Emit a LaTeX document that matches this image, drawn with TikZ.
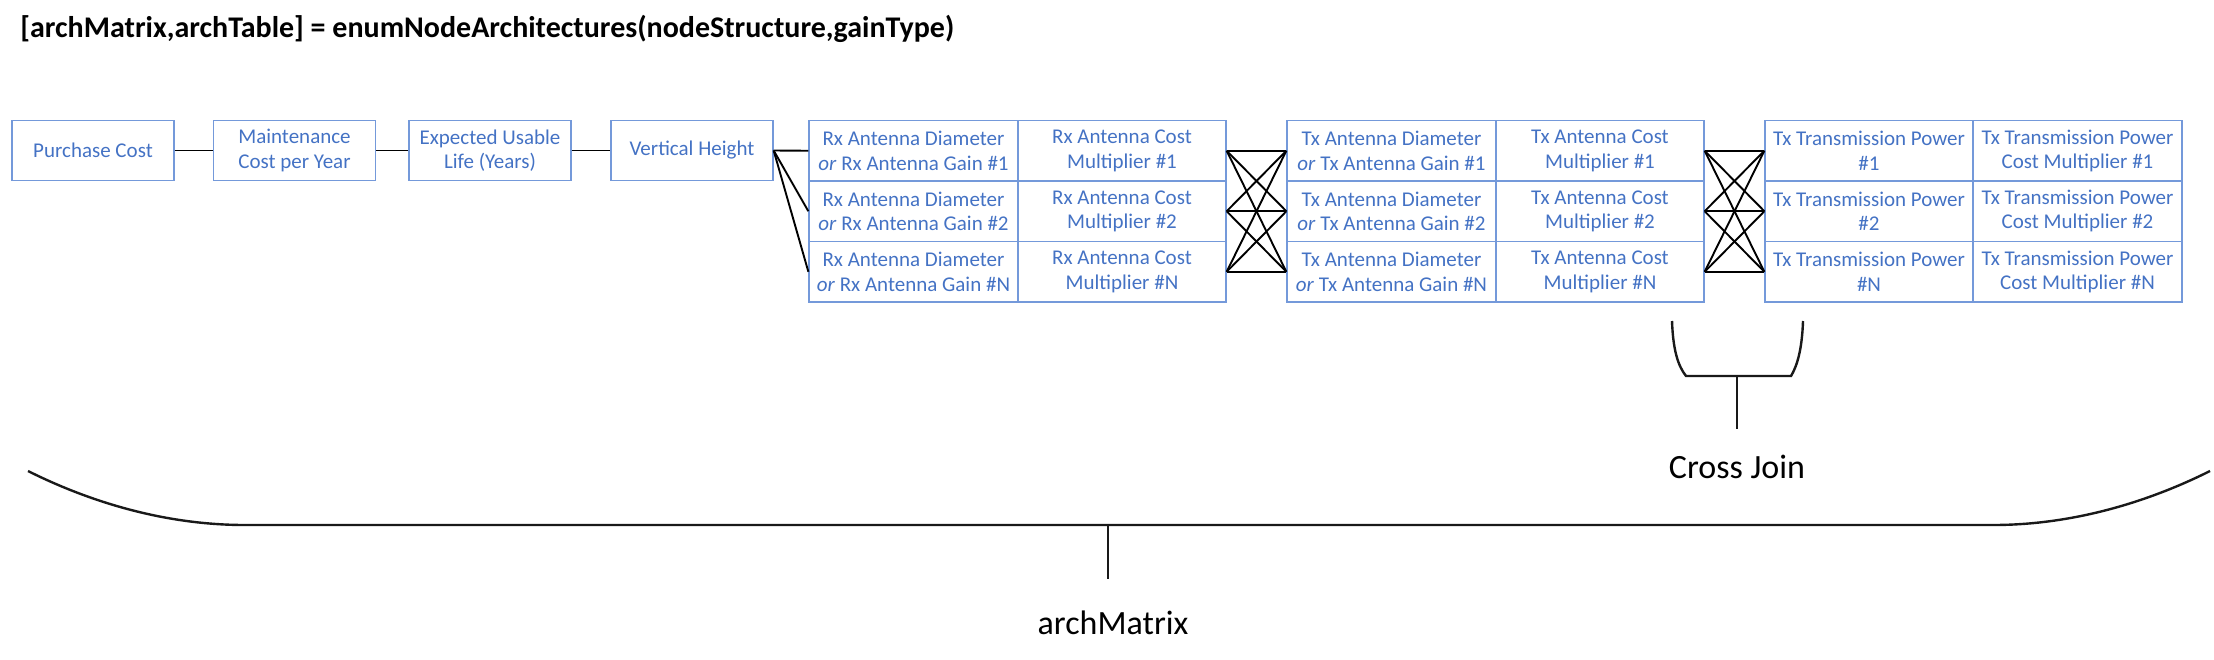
\documentclass[tikz,border=0pt]{standalone}
\usepackage{fontspec}
\setmainfont{Carlito}
\definecolor{txtblue}{HTML}{4472C4}
\definecolor{bordblue}{HTML}{7499DA}
\begin{document}
\begin{tikzpicture}[x=0.5pt,y=-0.5pt,
  cellbox/.style={draw=bordblue, line width=0.65pt, inner sep=0pt, align=center,
    text=txtblue, minimum height=30.25pt, font=\fontsize{10.5}{12.2}\selectfont},
  wideA/.style={cellbox, minimum width=104.5pt},
  wideB/.style={cellbox, minimum width=104pt},
  single/.style={cellbox, minimum width=81pt},
  conn/.style={draw=black, line width=0.95pt},
  brace/.style={draw=black!90, line width=1.2pt},
  biglabel/.style={inner sep=0pt, anchor=base, font=\fontsize{17}{20}\selectfont}
]
\useasboundingbox (0,0) rectangle (2214,659);

\node[inner sep=0pt, anchor=base west, font=\fontsize{15}{18}\selectfont\bfseries] (title) at (20,37)
  {[archMatrix,archTable] = enumNodeArchitectures(nodeStructure,gainType)};

% single boxes
\node[single] (pc) at (93,150.5) {Purchase Cost};
\node[single] (mc) at (294.5,150.5) {Maintenance\\Cost per Year};
\node[single] (eu) at (490,150.5) {Expected Usable\\Life (Years)};
\node[single] (vh) at (692,150.5) {Vertical Height};

% Rx table
\node[wideA] (rx1a) at (913.5,150.75) {Rx Antenna Diameter\\\textit{or} Rx Antenna Gain \#1};
\node[wideB] (rx1b) at (1122,150.75) {Rx Antenna Cost\\Multiplier \#1};
\node[wideA] (rx2a) at (913.5,211.25) {Rx Antenna Diameter\\\textit{or} Rx Antenna Gain \#2};
\node[wideB] (rx2b) at (1122,211.25) {Rx Antenna Cost\\Multiplier \#2};
\node[wideA] (rxNa) at (913.5,271.75) {Rx Antenna Diameter\\\textit{or} Rx Antenna Gain \#N};
\node[wideB] (rxNb) at (1122,271.75) {Rx Antenna Cost\\Multiplier \#N};

% Tx table
\node[wideA] (tx1a) at (1391.5,150.75) {Tx Antenna Diameter\\\textit{or} Tx Antenna Gain \#1};
\node[wideB] (tx1b) at (1600,150.75) {Tx Antenna Cost\\Multiplier \#1};
\node[wideA] (tx2a) at (1391.5,211.25) {Tx Antenna Diameter\\\textit{or} Tx Antenna Gain \#2};
\node[wideB] (tx2b) at (1600,211.25) {Tx Antenna Cost\\Multiplier \#2};
\node[wideA] (txNa) at (1391.5,271.75) {Tx Antenna Diameter\\\textit{or} Tx Antenna Gain \#N};
\node[wideB] (txNb) at (1600,271.75) {Tx Antenna Cost\\Multiplier \#N};

% Power table
\node[wideB] (pw1a) at (1869,150.75) {Tx Transmission Power\\\#1};
\node[wideA] (pw1b) at (2077.5,150.75) {Tx Transmission Power\\Cost Multiplier \#1};
\node[wideB] (pw2a) at (1869,211.25) {Tx Transmission Power\\\#2};
\node[wideA] (pw2b) at (2077.5,211.25) {Tx Transmission Power\\Cost Multiplier \#2};
\node[wideB] (pwNa) at (1869,271.75) {Tx Transmission Power\\\#N};
\node[wideA] (pwNb) at (2077.5,271.75) {Tx Transmission Power\\Cost Multiplier \#N};

% connectors
\draw[conn] (pc.east) -- (mc.west);
\draw[conn] (mc.east) -- (eu.west);
\draw[conn] (eu.east) -- (vh.west);
\foreach \j in {1,2,N} \draw[conn] (vh.east) -- (rx\j a.west);
\foreach \i in {1,2,N} \foreach \j in {1,2,N} {
  \draw[conn] (rx\i b.east) -- (tx\j a.west);
  \draw[conn] (tx\i b.east) -- (pw\j a.west);
}

% Cross Join brace
\coordinate (cjl) at (1672,321);
\coordinate (cjbl) at (1686,376);
\coordinate (cjbr) at (1791,376);
\coordinate (cjr) at (1803,321);
\coordinate (cjm) at (1737,376);
\coordinate (cjs) at (1737,429);
\draw[brace] (cjl) .. controls (1673,350) and (1678,366) .. (cjbl) -- (cjbr)
  .. controls (1797,366) and (1802,350) .. (cjr);
\draw[brace] (cjm) -- (cjs);
\node[biglabel] (cjlabel) at (1737,478) {Cross Join};

% big brace
\coordinate (bbl) at (28,471);
\coordinate (bbbl) at (245,525);
\coordinate (bbbr) at (1993,525);
\coordinate (bbr) at (2210,471);
\coordinate (bbm) at (1108,525);
\coordinate (bbs) at (1108,579);
\draw[brace] (bbl) .. controls (90,502) and (165,525) .. (bbbl) -- (bbbr)
  .. controls (2073,525) and (2148,502) .. (bbr);
\draw[brace] (bbm) -- (bbs);
\node[biglabel] (amlabel) at (1113,634) {archMatrix};
\end{tikzpicture}
\end{document}
